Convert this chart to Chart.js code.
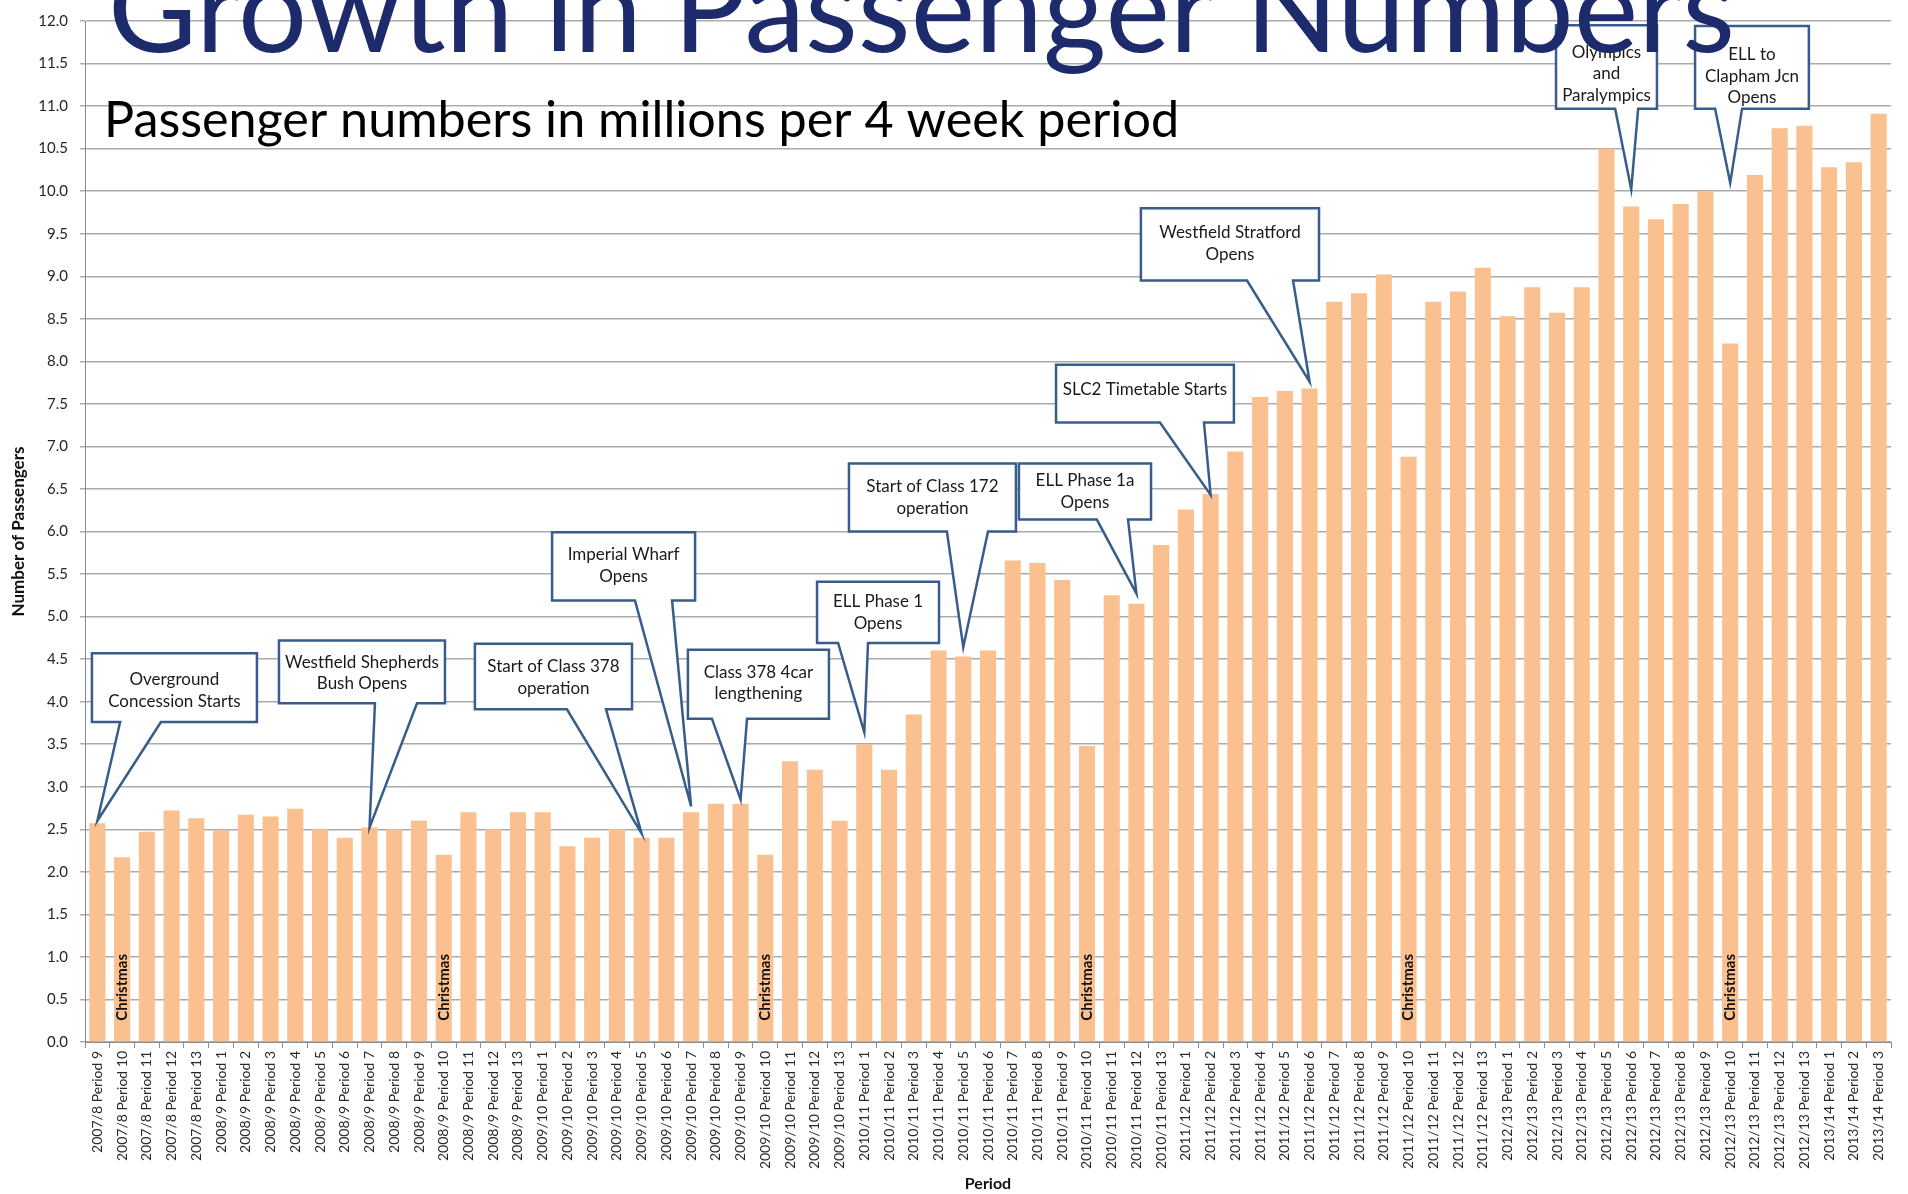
<!DOCTYPE html>
<html>
<head>
<meta charset="utf-8">
<title>Growth in Passenger Numbers</title>
<script src="https://cdn.jsdelivr.net/npm/chart.js@4.4.1/dist/chart.umd.min.js"></script>
<style>
  html, body { margin: 0; padding: 0; background: #fff; }
  #wrap { width: 1908px; height: 1194px; position: relative; }
</style>
</head>
<body>
<div id="wrap"><canvas id="passengerChart"></canvas></div>
<script>
// ----------------------
// Data
// ----------------------
const periods = [
  "2007/8 Period 9", "2007/8 Period 10", "2007/8 Period 11", "2007/8 Period 12", "2007/8 Period 13",
  "2008/9 Period 1", "2008/9 Period 2", "2008/9 Period 3", "2008/9 Period 4", "2008/9 Period 5",
  "2008/9 Period 6", "2008/9 Period 7", "2008/9 Period 8", "2008/9 Period 9", "2008/9 Period 10",
  "2008/9 Period 11", "2008/9 Period 12", "2008/9 Period 13",
  "2009/10 Period 1", "2009/10 Period 2", "2009/10 Period 3", "2009/10 Period 4", "2009/10 Period 5",
  "2009/10 Period 6", "2009/10 Period 7", "2009/10 Period 8", "2009/10 Period 9", "2009/10 Period 10",
  "2009/10 Period 11", "2009/10 Period 12", "2009/10 Period 13",
  "2010/11 Period 1", "2010/11 Period 2", "2010/11 Period 3", "2010/11 Period 4", "2010/11 Period 5",
  "2010/11 Period 6", "2010/11 Period 7", "2010/11 Period 8", "2010/11 Period 9", "2010/11 Period 10",
  "2010/11 Period 11", "2010/11 Period 12", "2010/11 Period 13",
  "2011/12 Period 1", "2011/12 Period 2", "2011/12 Period 3", "2011/12 Period 4", "2011/12 Period 5",
  "2011/12 Period 6", "2011/12 Period 7", "2011/12 Period 8", "2011/12 Period 9", "2011/12 Period 10",
  "2011/12 Period 11", "2011/12 Period 12", "2011/12 Period 13",
  "2012/13 Period 1", "2012/13 Period 2", "2012/13 Period 3", "2012/13 Period 4", "2012/13 Period 5",
  "2012/13 Period 6", "2012/13 Period 7", "2012/13 Period 8", "2012/13 Period 9", "2012/13 Period 10",
  "2012/13 Period 11", "2012/13 Period 12", "2012/13 Period 13",
  "2013/14 Period 1", "2013/14 Period 2", "2013/14 Period 3"
];

// passengers, millions per 4 week period
const passengers = [
  2.57, 2.17, 2.47, 2.72, 2.63,
  2.49, 2.67, 2.65, 2.74, 2.50, 2.40, 2.52, 2.50, 2.60, 2.20, 2.70, 2.50, 2.70,
  2.70, 2.30, 2.40, 2.50, 2.40, 2.40, 2.70, 2.80, 2.80, 2.20, 3.30, 3.20, 2.60,
  3.50, 3.20, 3.85, 4.60, 4.53, 4.60, 5.66, 5.63, 5.43, 3.48, 5.25, 5.15, 5.84,
  6.26, 6.44, 6.94, 7.58, 7.65, 7.68, 8.70, 8.80, 9.02, 6.88, 8.70, 8.82, 9.10,
  8.53, 8.87, 8.57, 8.87, 10.50, 9.82, 9.67, 9.85, 10.00, 8.21, 10.19, 10.74, 10.77,
  10.28, 10.34, 10.91
];

const yTicks = [0, 0.5, 1, 1.5, 2, 2.5, 3, 3.5, 4, 4.5, 5, 5.5, 6, 6.5, 7, 7.5, 8, 8.5, 9, 9.5, 10, 10.5, 11, 11.5, 12];

const christmasLabel = "Christmas";

// callout texts and the bar each one points at
const calloutText = [
  ["Overground", "Concession Starts"],
  ["Westfield Shepherds", "Bush Opens"],
  ["Start of Class 378", "operation"],
  ["Imperial Wharf", "Opens"],
  ["Class 378 4car", "lengthening"],
  ["ELL Phase 1", "Opens"],
  ["Start of Class 172", "operation"],
  ["ELL Phase 1a", "Opens"],
  ["SLC2 Timetable Starts"],
  ["Westfield Stratford", "Opens"],
  ["Olympics", "and", "Paralympics"],
  ["ELL to", "Clapham Jcn", "Opens"]
];
const calloutBar = [0, 11, 22, 24, 26, 31, 35, 42, 45, 49, 62, 66];

const titleText = "Growth in Passenger Numbers";
const subtitleText = "Passenger numbers in millions per 4 week period";

// ----------------------
// Callout layout (category / value units)
// ----------------------
const calloutBox = [
  { x0: -0.22, x1: 6.45,  y0: 4.57,  y1: 3.76,  b0: 0.92,  b1: 2.57,  tip: 2.60,  dy: 3 },
  { x0: 7.34,  x1: 14.05, y0: 4.72,  y1: 3.98,  b0: 11.22, b1: 12.92, tip: 2.52,  dy: 1 },
  { x0: 15.26, x1: 21.61, y0: 4.68,  y1: 3.91,  b0: 18.98, b1: 20.56, tip: 2.45,  dy: 1 },
  { x0: 18.38, x1: 24.16, y0: 5.99,  y1: 5.19,  b0: 21.73, b1: 23.23, tip: 2.77,  dy: -1 },
  { x0: 23.87, x1: 29.57, y0: 4.61,  y1: 3.80,  b0: 24.84, b1: 26.26, tip: 2.85,  dy: -1 },
  { x0: 29.09, x1: 34.02, y0: 5.41,  y1: 4.69,  b0: 29.94, b1: 31.15, tip: 3.64,  dy: 0 },
  { x0: 30.38, x1: 37.13, y0: 6.80,  y1: 6.00,  b0: 34.34, b1: 36.00, tip: 4.64,  dy: 0 },
  { x0: 37.25, x1: 42.59, y0: 6.80,  y1: 6.14,  b0: 40.40, b1: 41.66, tip: 5.27,  dy: 0 },
  { x0: 38.75, x1: 45.94, y0: 7.96,  y1: 7.28,  b0: 42.95, b1: 44.73, tip: 6.43,  dy: -4 },
  { x0: 42.18, x1: 49.38, y0: 9.80,  y1: 8.95,  b0: 46.47, b1: 48.33, tip: 7.76,  dy: -1 },
  { x0: 58.96, x1: 63.04, y0: 11.95, y1: 10.97, b0: 61.35, b1: 62.28, tip: 10.02, dy: 7 },
  { x0: 64.58, x1: 69.18, y0: 11.94, y1: 10.97, b0: 65.39, b1: 66.48, tip: 10.10, dy: 9 }
];

const FONT = "Lato, 'Open Sans', sans-serif";

// ----------------------
// Overlay: Christmas labels, callouts, titles
// ----------------------
const overlayPlugin = {
  id: "overlay",
  afterDatasetsDraw(chart) {
    const { ctx } = chart;
    const xs = chart.scales.x, ys = chart.scales.y;
    ctx.save();

    // Christmas markers inside the Period 10 bars
    ctx.font = "bold 15px " + FONT;
    ctx.fillStyle = "#111";
    ctx.textAlign = "left";
    ctx.textBaseline = "middle";
    periods.forEach((p, i) => {
      if (!p.endsWith("Period 10")) return;
      ctx.save();
      ctx.translate(xs.getPixelForValue(i), ys.getPixelForValue(0.25));
      ctx.rotate(-Math.PI / 2);
      ctx.fillText(christmasLabel, 0, 0);
      ctx.restore();
    });

    // callout boxes
    calloutBox.forEach((c, k) => {
      const L = xs.getPixelForValue(c.x0), R = xs.getPixelForValue(c.x1);
      const T = ys.getPixelForValue(c.y0), B = ys.getPixelForValue(c.y1);
      const b0 = xs.getPixelForValue(c.b0), b1 = xs.getPixelForValue(c.b1);
      const tx = xs.getPixelForValue(calloutBar[k]), ty = ys.getPixelForValue(c.tip);

      ctx.beginPath();
      ctx.moveTo(L, T);
      ctx.lineTo(R, T);
      ctx.lineTo(R, B);
      ctx.lineTo(b1, B);
      ctx.lineTo(tx, ty);
      ctx.lineTo(b0, B);
      ctx.lineTo(L, B);
      ctx.closePath();
      ctx.fillStyle = "#fff";
      ctx.fill();
      ctx.lineWidth = 2.5;
      ctx.lineJoin = "miter";
      ctx.strokeStyle = "#385d8a";
      ctx.stroke();

      const lines = calloutText[k];
      const lh = 21.5;
      const cx = (L + R) / 2;
      const cy = (T + B) / 2 + c.dy;
      ctx.font = "17px " + FONT;
      ctx.fillStyle = "#1a1a1a";
      ctx.textAlign = "center";
      ctx.textBaseline = "middle";
      lines.forEach((t, j) => {
        ctx.fillText(t, cx, cy + (j - (lines.length - 1) / 2) * lh);
      });
    });
    ctx.restore();
  },
  afterDraw(chart) {
    const { ctx } = chart;
    ctx.save();
    ctx.textAlign = "left";
    ctx.textBaseline = "alphabetic";

    // main title, fitted to the width it has in the slide
    ctx.font = "100px " + FONT;
    let size = 100 * 1627 / ctx.measureText(titleText).width;
    ctx.font = size.toFixed(1) + "px " + FONT;
    ctx.fillStyle = "#1d2a6b";
    ctx.fillText(titleText, 108, 52);

    ctx.font = "100px " + FONT;
    size = 100 * 1075 / ctx.measureText(subtitleText).width;
    ctx.font = size.toFixed(1) + "px " + FONT;
    ctx.fillStyle = "#000";
    ctx.fillText(subtitleText, 104, 137);
    ctx.restore();
  }
};

// ----------------------
// Chart
// ----------------------
const ctx = document.getElementById("passengerChart").getContext("2d");
new Chart(ctx, {
  type: "bar",
  data: {
    labels: periods,
    datasets: [{
      label: "Passengers (millions)",
      data: passengers,
      backgroundColor: "#fac090",
      borderWidth: 0,
      categoryPercentage: 1.0,
      barPercentage: 0.65
    }]
  },
  options: {
    responsive: true,
    maintainAspectRatio: false,
    animation: false,
    layout: { padding: { left: 0, right: 17, top: 18, bottom: 0 } },
    plugins: {
      legend: { display: false },
      title: { display: false },
      tooltip: { enabled: false }
    },
    scales: {
      x: {
        offset: true,
        grid: {
          display: true,
          offset: true,
          drawOnChartArea: false,
          drawTicks: true,
          tickLength: 6,
          color: "#8c8c8c"
        },
        border: { display: true, color: "#8c8c8c", width: 1 },
        ticks: {
          autoSkip: false,
          minRotation: 90,
          maxRotation: 90,
          padding: 3,
          color: "#2a2a2a",
          font: { family: FONT, size: 14 }
        },
        title: {
          display: true,
          text: "Period",
          color: "#111",
          font: { family: FONT, size: 16, weight: "bold" },
          padding: { top: 0, bottom: 1 }
        },
        afterFit(scale) { scale.height = 152; }
      },
      y: {
        min: 0,
        max: 12,
        afterBuildTicks(scale) { scale.ticks = yTicks.map(v => ({ value: v })); },
        grid: {
          color: "#ababab",
          lineWidth: 1.5,
          drawTicks: true,
          tickLength: 5
        },
        border: { display: true, color: "#8c8c8c", width: 1 },
        ticks: {
          padding: 12,
          color: "#262626",
          font: { family: FONT, size: 15 },
          callback: v => Number(v).toFixed(1)
        },
        title: {
          display: true,
          text: "Number of Passengers",
          color: "#111",
          font: { family: FONT, size: 17, weight: "bold" },
          padding: { top: 8, bottom: 0 }
        },
        afterFit(scale) { scale.width = 85; }
      }
    }
  },
  plugins: [overlayPlugin]
});
</script>
</body>
</html>
